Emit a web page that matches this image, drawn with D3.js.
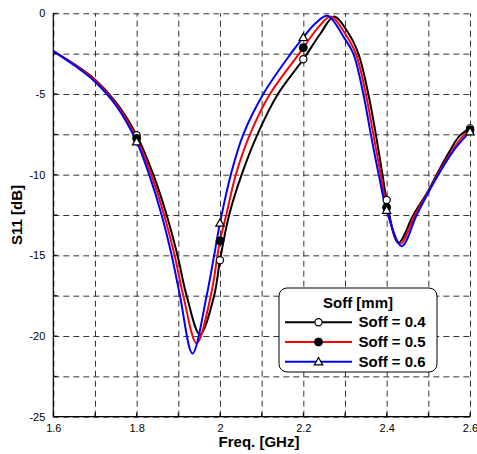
<!DOCTYPE html>
<html>
<head>
<meta charset="utf-8">
<script src="https://cdn.jsdelivr.net/npm/d3@7"></script>
<style>
  body { margin: 0; background: #fff; }
  svg { display: block; font-family: "Liberation Sans", Arial, sans-serif; }
</style>
</head>
<body>
<svg id="chart" width="477" height="454"></svg>
<script>
// values: [freq GHz, S11 dB]
const soff04 = [
  [1.6, -2.34], [1.65, -3.15], [1.7, -4.1], [1.75, -5.5], [1.8, -7.55],
  [1.84, -10], [1.872, -12.5], [1.898, -15], [1.92, -17.5], [1.952, -19.9],
  [1.986, -17.5], [2.0, -15.3], [2.022, -12.5], [2.052, -10], [2.09, -7.5],
  [2.139, -5], [2.2, -2.85], [2.24, -1.3], [2.274, -0.2], [2.305, -1.1],
  [2.332, -2.5], [2.356, -5], [2.374, -7.5], [2.39, -10], [2.4, -11.57],
  [2.428, -14.22], [2.464, -12.5], [2.5, -11.0], [2.52, -10], [2.55, -8.6],
  [2.575, -7.6], [2.6, -7.13]
];
const soff05 = [
  [1.6, -2.34], [1.65, -3.18], [1.7, -4.15], [1.75, -5.6], [1.8, -7.75],
  [1.835, -10], [1.866, -12.5], [1.891, -15], [1.912, -17.5], [1.944, -20.45],
  [1.978, -17.5], [1.994, -15], [2.0, -14.1], [2.015, -12.5], [2.038, -10],
  [2.072, -7.5], [2.12, -5], [2.19, -2.5], [2.2, -2.13], [2.235, -0.9],
  [2.266, -0.2], [2.3, -1.25], [2.326, -2.5], [2.35, -5], [2.368, -7.5],
  [2.386, -10], [2.4, -12.03], [2.432, -14.3], [2.468, -12.5], [2.5, -11.05],
  [2.522, -10], [2.555, -8.6], [2.58, -7.7], [2.6, -7.23]
];
const soff06 = [
  [1.6, -2.34], [1.65, -3.22], [1.7, -4.24], [1.75, -5.7], [1.8, -7.96],
  [1.83, -10], [1.86, -12.5], [1.884, -15], [1.904, -17.5], [1.934, -21.08],
  [1.968, -17.5], [1.986, -15], [2.0, -13.0], [2.026, -10], [2.056, -7.5],
  [2.104, -5], [2.17, -2.5], [2.2, -1.49], [2.23, -0.6], [2.258, -0.15],
  [2.3, -1.6], [2.32, -2.5], [2.344, -5], [2.362, -7.5], [2.381, -10],
  [2.4, -12.2], [2.436, -14.43], [2.472, -12.5], [2.5, -11.1], [2.524, -10],
  [2.558, -8.6], [2.585, -7.75], [2.6, -7.34]
];
const markerFreqs = [1.8, 2.0, 2.2, 2.4, 2.6];
const seriesNames = ["Soff = 0.4", "Soff = 0.5", "Soff = 0.6"];
const xTicks = [1.6, 1.7, 1.8, 1.9, 2.0, 2.1, 2.2, 2.3, 2.4, 2.5, 2.6];
const xLabels = ["1.6", "", "1.8", "", "2", "", "2.2", "", "2.4", "", "2.6"];
const yTicks = [0, -2.5, -5, -7.5, -10, -12.5, -15, -17.5, -20, -22.5, -25];
const yLabels = ["0", "", "-5", "", "-10", "", "-15", "", "-20", "", "-25"];

const colors = ["#000000", "#ff0000", "#0000ff"];
const markers = ["open", "filled", "triangle"];
const allSeries = [soff04, soff05, soff06];

const svg = d3.select("#chart");
const pLeft = 53.3, pRight = 470, pTop = 13.3, pBottom = 416.7;

const x = d3.scaleLinear().domain([1.6, 2.6]).range([pLeft, pRight]);
const y = d3.scaleLinear().domain([-25, 0]).range([pBottom, pTop]);

// grid
const gx = svg.append("g").attr("transform", `translate(0,${pBottom})`)
  .call(d3.axisBottom(x).tickValues(xTicks).tickSize(-(pBottom - pTop)).tickPadding(8)
    .tickFormat((d, i) => xLabels[i]));
const gy = svg.append("g").attr("transform", `translate(${pLeft},0)`)
  .call(d3.axisLeft(y).tickValues(yTicks).tickSize(-(pRight - pLeft)).tickPadding(8)
    .tickFormat((d, i) => yLabels[i]));
[gx, gy].forEach(g => {
  g.select(".domain").remove();
  g.selectAll(".tick line").attr("stroke", "#333").attr("stroke-dasharray", "6,4");
  g.selectAll(".tick text").attr("fill", "#000").style("font-size", "11px")
    .style("font-family", "'Liberation Sans', Arial, sans-serif");
});

// small inner ticks
svg.append("g").selectAll("line").data(xTicks).join("line")
  .attr("x1", d => x(d)).attr("x2", d => x(d))
  .attr("y1", pBottom).attr("y2", pBottom - 4).attr("stroke", "#000");
svg.append("g").selectAll("line").data(yTicks).join("line")
  .attr("x1", pLeft).attr("x2", pLeft + 4)
  .attr("y1", d => y(d)).attr("y2", d => y(d)).attr("stroke", "#000");

// axis lines
svg.append("line").attr("x1", pLeft).attr("x2", pLeft).attr("y1", pTop).attr("y2", pBottom)
  .attr("stroke", "#000").attr("stroke-width", 1.2);
svg.append("line").attr("x1", pLeft).attr("x2", pRight).attr("y1", pBottom).attr("y2", pBottom)
  .attr("stroke", "#000").attr("stroke-width", 1.2);

// curves
const line = d3.line().x(d => x(d[0])).y(d => y(d[1])).curve(d3.curveCatmullRom.alpha(0.5));
allSeries.forEach((s, i) => {
  svg.append("path").datum(s).attr("d", line)
    .attr("fill", "none").attr("stroke", colors[i]).attr("stroke-width", 2);
});

function drawMarker(g, type, cx, cy) {
  if (type === "open") {
    g.append("circle").attr("cx", cx).attr("cy", cy).attr("r", 3.6)
      .attr("fill", "#fff").attr("stroke", "#000").attr("stroke-width", 1.2);
  } else if (type === "filled") {
    g.append("circle").attr("cx", cx).attr("cy", cy).attr("r", 4)
      .attr("fill", "#000").attr("stroke", "#000");
  } else {
    const s = 4.2;
    g.append("path")
      .attr("d", `M${cx},${cy - s}L${cx + s},${cy + s * 0.75}L${cx - s},${cy + s * 0.75}Z`)
      .attr("fill", "#fff").attr("stroke", "#000").attr("stroke-width", 1.2);
  }
}

allSeries.forEach((s, i) => {
  const g = svg.append("g");
  s.filter(d => markerFreqs.includes(d[0]))
    .forEach(d => drawMarker(g, markers[i], x(d[0]), y(d[1])));
});

// axis titles
svg.append("text").attr("x", 259).attr("y", 447).attr("text-anchor", "middle")
  .style("font-size", "15px").style("font-weight", "bold").text("Freq. [GHz]");
svg.append("text").attr("transform", `translate(22,${(pTop + pBottom) / 2}) rotate(-90)`)
  .attr("text-anchor", "middle")
  .style("font-size", "15px").style("font-weight", "bold").text("S11 [dB]");

// legend
const lg = svg.append("g");
lg.append("rect").attr("x", 279).attr("y", 288).attr("width", 158).attr("height", 84)
  .attr("rx", 8).attr("fill", "#fff").attr("stroke", "#000").attr("stroke-width", 1);
lg.append("text").attr("x", 358).attr("y", 308).attr("text-anchor", "middle")
  .style("font-size", "15px").style("font-weight", "bold").text("Soff [mm]");
seriesNames.forEach((name, i) => {
  const ly = 322.3 + i * 19.7;
  lg.append("line").attr("x1", 285).attr("x2", 352).attr("y1", ly).attr("y2", ly)
    .attr("stroke", colors[i]).attr("stroke-width", 2);
  drawMarker(lg, markers[i], 318.5, ly);
  lg.append("text").attr("x", 358.5).attr("y", ly + 5)
    .style("font-size", "15px").style("font-weight", "bold").text(name);
});
</script>
</body>
</html>
